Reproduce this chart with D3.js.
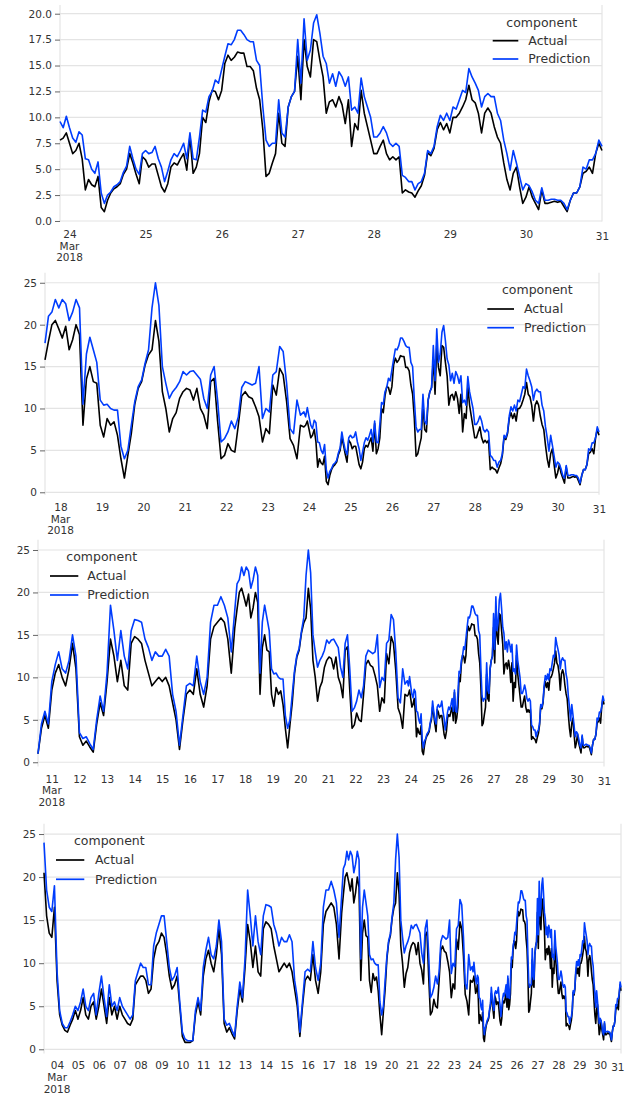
<!DOCTYPE html>
<html>
<head>
<meta charset="utf-8">
<script src="https://cdn.jsdelivr.net/npm/d3@7"></script>
<style>
  body { margin: 0; background: #fff; }
  svg { display: block; font-family: "DejaVu Sans", sans-serif; }
</style>
</head>
<body>
<svg id="chart"></svg>
<script>
// Oldest readings, every 3 hours from 3 Mar 2018 09:00 to 17 Mar 12:00
const coarseStart = Date.UTC(2018, 2, 3, 9);
const coarseStepHours = 3;

const actualCoarse = [
  20.5, 15.5, 13.5, 13, 16.5,                 // Mar 3 (09-21h)
  8, 4, 2.8, 2.2, 2, 2.8, 3.5, 4.5,           // Mar 4
  3.5, 4.5, 6, 4, 3.5, 5, 5.5, 3.5,           // Mar 5
  5, 7, 5, 3, 6, 4, 5, 3.5,                   // Mar 6
  5, 4, 3.5, 3, 2.8, 3.5, 7.5, 8,             // Mar 7
  8.5, 8.5, 8, 6.5, 7, 10.5, 12, 12.5,        // Mar 8
  13.5, 13, 11, 8.5, 7, 7.5, 8.5, 5,          // Mar 9
  1.5, 0.8, 0.8, 0.8, 1, 4, 5.5, 4,           // Mar 10
  8.5, 10.5, 11.5, 10, 9, 11, 14, 11,         // Mar 11
  3, 2, 2.5, 1.8, 1.2, 4.5, 7, 5.5,           // Mar 12
  9.5, 14.5, 12.5, 9.5, 12, 9, 8.5, 14,       // Mar 13
  14.8, 14.5, 14, 12, 10.5, 9, 9.5, 10,       // Mar 14
  9.5, 10, 9, 7, 5, 1.5, 5, 8,                // Mar 15
  8.5, 8, 11, 8, 6.5, 9, 14.5, 16,            // Mar 16
  16.5, 17, 16.5, 14.5, 10.5                  // Mar 17 (00-12h)
];

const predictionCoarse = [
  24, 18.5, 16.5, 16, 19,
  9, 4.5, 3, 2.5, 2.5, 3.2, 4, 5,
  4.5, 5.5, 7, 5, 4.5, 6, 6.5, 4,
  6.5, 8.5, 6, 3.8, 7.5, 5, 5.5, 4.5,
  6, 5, 4.5, 4, 3.5, 4, 8, 9,
  10, 9.5, 9.5, 7.5, 7.5, 12, 13.5, 14.5,
  15.5, 15.5, 12.5, 9.5, 8, 8.5, 9.5, 5.5,
  2, 1.2, 1, 1, 1, 4.5, 6, 4.5,
  9.5, 11.5, 13, 11, 10.5, 12, 15, 12.5,
  3.5, 2.8, 3, 2.2, 1.5, 5, 7.8, 6,
  10.5, 18.5, 15.5, 12, 15.5, 12.5, 11, 15.5,
  16.8, 16.7, 16.5, 14.5, 13.5, 12, 13, 12.5,
  12.5, 13.3, 12.5, 8, 6, 2, 5.5, 9,
  9.3, 9, 12.5, 9.5, 8, 10, 16.5, 18.5,
  18.5, 19.5, 18.5, 17, 13
];

// Middle stretch, every 2 hours from 17 Mar 15:00 to 23 Mar 19:00
const midStart = Date.UTC(2018, 2, 17, 15);
const midStepHours = 2;

const actualMid = [
  15.8, 18, 20, 20.5, 19.5,                                  // Mar 17 15-23h
  18.4, 19.8, 17, 18.2, 20, 18.8, 8, 13.5, 15, 13.2, 13, 8,  // Mar 18
  6.6, 8.8, 8, 8.4, 6.8, 4, 1.7, 4.4, 7, 10.5, 12.4, 13.2,   // Mar 19
  15.2, 16.4, 17, 20.5, 18, 12, 10, 7.2, 8.8, 9.5, 11.2, 12, // Mar 20
  12.4, 12.2, 11, 12.4, 10, 9.2, 7.6, 13.2, 13.6, 8.5, 4, 4.4, // Mar 21
  5.8, 5, 4.8, 8, 11.5, 12, 11.4, 11.2, 10.2, 9, 6, 7.6,     // Mar 22
  7, 12.8, 11.6, 14.8, 14, 10.8, 6.4, 5.6, 4, 8              // Mar 23 01-19h
];

const predictionMid = [
  17.8, 21, 21.5, 23, 22,
  23, 22.5, 20.5, 21.5, 23, 22, 10.5, 16.5, 18.5, 17, 15.5, 11,
  10.4, 10.5, 10, 9.8, 9.8, 5.5, 4, 5, 8, 10.8, 12.6, 13.4,
  15.4, 17, 22, 25, 22.3, 15, 13, 11.2, 12, 12.5, 13.2, 14.4,
  14, 14.4, 14.5, 14, 13.5, 11.2, 10, 14, 15, 11, 6, 6.4,
  7.2, 8.5, 7.6, 9, 12.5, 13.2, 13, 12.8, 13, 15, 8.8, 10,
  9.6, 14, 14.4, 17.4, 16.8, 13, 7.6, 7, 11, 9.2
];

// Last week, hourly from 23 Mar 21:00 to 31 Mar 00:00
const fineStart = Date.UTC(2018, 2, 23, 21);
const fineStepHours = 1;

const actualFine = [
  7.8, 8, 8.5,                                                        // Mar 23 21-23h
  7.5, 6.5, 6.8, 7.5, 6, 3, 4, 3.5, 3.3, 4.3, 1.3, 0.9,               // Mar 24
  2, 2.7, 3.1, 3.3, 3.6, 4.5, 5, 6.5, 5.6, 4.5, 3.6, 6.2,
  5.9, 5.2, 5.5, 5.5, 4.4, 3.3, 2.8, 3.6, 5.2, 5.6, 5.4, 6,           // Mar 25
  6.5, 4.9, 8.2, 4.6, 5.2, 6.5, 10, 9.5, 11.5, 12.6, 12.5, 11.7,
  12.6, 15.2, 16, 15.5, 15.8, 16.3, 16.2, 16.2, 14.9, 14.9, 14.5, 12.8, // Mar 26
  11.7, 8.8, 4.3, 4.6, 5.6, 6.5, 10.4, 7.5, 7.2, 11, 12, 12.5,
  15.9, 11.7, 17.5, 14.9, 13.9, 17.5, 17.3, 15.5, 13.9, 10.4, 11.5, 11.7, // Mar 27
  11, 12, 11.2, 9.4, 11.7, 7.2, 9.4, 8.8, 12.6, 10.4, 9.1, 7.8,
  6.5, 6.5, 7.2, 7.8, 6.5, 5.9, 6.2, 5.9, 6.2, 2.7, 3, 2.8,           // Mar 28
  2.7, 2.3, 2.9, 3.4, 4.4, 6.6, 6.3, 7, 8.8, 9.5, 8.8, 9.4,
  8.5, 10, 10, 10.4, 11, 11.7, 13.1, 11.7, 11.4, 10.4, 8.5, 10.4,     // Mar 29
  10.9, 10.4, 9.1, 8.1, 7.5, 5.6, 4, 3, 4.6, 5.2, 3.3, 1.7,
  2.3, 3.3, 2.3, 1.7, 1.1, 3, 1.7, 1.7, 1.8, 1.9, 1.8, 1.9,           // Mar 30
  1.4, 0.9, 2, 2.7, 2.7, 3.3, 4.6, 4.8, 5.2, 4.6, 6.5, 7.5,
  6.8                                                                 // Mar 31 00h
];

const predictionFine = [
  9.6, 9, 10.1,
  9, 8, 7.6, 8.6, 8.3, 6, 5.9, 5, 4.6, 5.7, 2.7, 1.7,
  2.5, 2.8, 3.3, 3.5, 3.8, 4.7, 5.3, 7.2, 6, 5, 4.5, 6.5,
  6.8, 6.5, 6.6, 7.2, 6, 5.2, 3.8, 4.8, 5.9, 6.5, 6.2, 6.8,
  7.5, 6, 8.5, 6, 5.9, 8.1, 10.7, 10.5, 12, 12.5, 13.6, 13.3,
  14.6, 15.9, 17.1, 17, 17.5, 18.4, 18.4, 18, 17.5, 17.3, 17.3, 15.5,
  15, 11, 7.8, 7.2, 7.5, 7.5, 11.7, 8.5, 8.1, 11, 12, 12.5,
  17.5, 13.3, 19.5, 15.5, 16.5, 19.1, 19.9, 18.1, 15.9, 15.2, 13.3, 14.2,
  13, 14.4, 13.9, 13, 13.9, 10.7, 11, 10.4, 13.8, 12, 11, 10,
  8.1, 8.1, 8.5, 9.1, 8.5, 7.5, 7.2, 7.5, 7.2, 4.4, 4.2, 3.8,
  3.8, 3, 3.6, 3.8, 4.6, 6.8, 6.5, 7.2, 9.1, 10.2, 9.7, 10.4,
  9.7, 11, 10.8, 11.7, 12.6, 12.4, 14.7, 13.9, 13.3, 12.6, 11, 12,
  12.3, 12, 12, 10.4, 9.7, 7.8, 6.5, 4.9, 6.8, 5.6, 4.3, 3,
  3.6, 3.4, 2.8, 2, 1.7, 3.2, 2, 2, 2.1, 2.1, 2, 2,
  1.7, 1.1, 2, 2.7, 2.7, 3.3, 5.2, 5, 5.9, 5.9, 6.5, 7.8,
  7.2
];

const seriesNames = ["Actual", "Prediction"];
const seriesColors = ["#000000", "#003dfd"];
const legendTitle = "component";

// first timestamp shown in each of the four panels
const panelStarts = [
  Date.UTC(2018, 2, 23, 21),
  Date.UTC(2018, 2, 17, 15),
  Date.UTC(2018, 2, 10, 12),
  Date.UTC(2018, 2, 3, 9)
];

// page layout of the panels
const panels = [
  { left: 60, right: 602, top: 4.9, bottom: 221.5, yDomain: [-0.05, 20.85], yStep: 2.5, yMax: 20, yFormat: ".1f",
    xLabelY: 234.3, legend: { titleX: 541.7, titleY: 22.3, x1: 492.7, x2: 518.3, textX: 528.3, rows: [40.7, 59] } },
  { left: 45, right: 599, top: 272.7, bottom: 494.8, yDomain: [-0.3, 26.2], yStep: 5, yMax: 25, yFormat: "d",
    xLabelY: 507.3, legend: { titleX: 537.3, titleY: 290, x1: 487.3, x2: 514, textX: 524, rows: [309, 327.7] } },
  { left: 38, right: 604, top: 539.8, bottom: 766.5, yDomain: [-0.5, 26.2], yStep: 5, yMax: 25, yFormat: "d",
    xLabelY: 779, legend: { titleX: 101.7, titleY: 556.7, x1: 50, x2: 78.3, textX: 87.3, rows: [576, 595] } },
  { left: 44, right: 621, top: 823.7, bottom: 1053.6, yDomain: [-0.5, 26.2], yStep: 5, yMax: 25, yFormat: "d",
    xLabelY: 1065.7, legend: { titleX: 109.3, titleY: 841, x1: 56, x2: 84.3, textX: 95, rows: [860, 879.3] } }
];

const pageWidth = 625;
const pageHeight = 1095;
const gridColor = "#e4e4e4";
const textColor = "#333";
const tickFont = 10.5;
const legendFont = 12.5;
const lineWidth = 1.6;

const toRows = (start, step, a, p) => a.map((v, i) => ({
  t: new Date(start + i * step * 3600e3),
  values: [v, p[i]]
}));

const rows = [].concat(
  toRows(coarseStart, coarseStepHours, actualCoarse, predictionCoarse),
  toRows(midStart, midStepHours, actualMid, predictionMid),
  toRows(fineStart, fineStepHours, actualFine, predictionFine)
);

const svg = d3.select("#chart")
    .attr("width", pageWidth)
    .attr("height", pageHeight);

panels.forEach((p, k) => {
  const data = rows.filter(d => d.t >= panelStarts[k]);

  const x = d3.scaleUtc()
      .domain(d3.extent(data, d => d.t))
      .range([p.left, p.right]);
  const y = d3.scaleLinear()
      .domain(p.yDomain)
      .range([p.bottom, p.top]);

  const g = svg.append("g");

  // horizontal grid
  const yTicks = d3.range(0, p.yMax + 1e-9, p.yStep);
  g.append("g")
    .selectAll("line")
    .data(yTicks)
    .join("line")
      .attr("x1", p.left)
      .attr("x2", p.right)
      .attr("y1", d => y(d))
      .attr("y2", d => y(d))
      .attr("stroke", gridColor)
      .attr("stroke-width", 1.2);

  // faint frame at both ends
  g.append("g")
    .selectAll("line")
    .data([p.left, p.right])
    .join("line")
      .attr("x1", d => d)
      .attr("x2", d => d)
      .attr("y1", p.top)
      .attr("y2", p.bottom)
      .attr("stroke", gridColor)
      .attr("stroke-width", 1.2);

  // y axis
  const yAxis = g.append("g")
      .attr("transform", `translate(${p.left},0)`)
      .call(d3.axisLeft(y)
        .tickValues(yTicks)
        .tickFormat(d3.format(p.yFormat))
        .tickSize(5)
        .tickPadding(3));
  yAxis.select(".domain").remove();
  yAxis.selectAll(".tick line").attr("stroke", "#666");
  yAxis.selectAll(".tick text")
      .attr("fill", textColor)
      .attr("font-size", tickFont)
      .attr("font-family", "DejaVu Sans, sans-serif");

  // x axis: one label per day, month/year under the first one
  const days = x.ticks(d3.utcDay.every(1));
  const xAxis = g.append("g")
      .attr("transform", `translate(0,${p.xLabelY})`)
      .call(d3.axisBottom(x)
        .tickValues(days)
        .tickFormat(d3.utcFormat("%d"))
        .tickSize(0)
        .tickPadding(0));
  xAxis.select(".domain").remove();
  xAxis.selectAll(".tick text")
      .attr("dy", "0.35em")
      .attr("fill", textColor)
      .attr("font-size", tickFont)
      .attr("font-family", "DejaVu Sans, sans-serif");

  // the closing label sits a touch lower, and is kept inside the page
  const lastText = xAxis.selectAll(".tick text").filter((d, i, n) => i === n.length - 1);
  lastText.attr("y", 2);
  const box = lastText.node().getBBox();
  const overflow = x(days[days.length - 1]) + box.width / 2 - (pageWidth - 1);
  if (overflow > 0) lastText.attr("x", -overflow);

  const first = days[0];
  ["%b", "%Y"].forEach((f, j) => {
    g.append("text")
        .attr("x", x(first))
        .attr("y", p.xLabelY + (j + 1) * 11.6)
        .attr("dy", "0.35em")
        .attr("text-anchor", "middle")
        .attr("fill", textColor)
        .attr("font-size", tickFont)
        .text(d3.utcFormat(f)(first));
  });

  // series
  seriesNames.forEach((name, s) => {
    const line = d3.line()
        .x(d => x(d.t))
        .y(d => y(d.values[s]));
    g.append("path")
        .datum(data)
        .attr("fill", "none")
        .attr("stroke", seriesColors[s])
        .attr("stroke-width", lineWidth)
        .attr("stroke-linejoin", "round")
        .attr("d", line);
  });

  // legend
  const L = p.legend;
  g.append("text")
      .attr("x", L.titleX)
      .attr("y", L.titleY)
      .attr("dy", "0.35em")
      .attr("text-anchor", "middle")
      .attr("fill", textColor)
      .attr("font-size", legendFont)
      .text(legendTitle);

  const item = g.append("g")
    .selectAll("g")
    .data(seriesNames)
    .join("g")
      .attr("transform", (d, i) => `translate(0,${L.rows[i]})`);

  item.append("line")
      .attr("x1", L.x1)
      .attr("x2", L.x2)
      .attr("stroke", (d, i) => seriesColors[i])
      .attr("stroke-width", 1.7);

  item.append("text")
      .attr("x", L.textX)
      .attr("dy", "0.35em")
      .attr("fill", textColor)
      .attr("font-size", legendFont)
      .text(d => d);
});
</script>
</body>
</html>
